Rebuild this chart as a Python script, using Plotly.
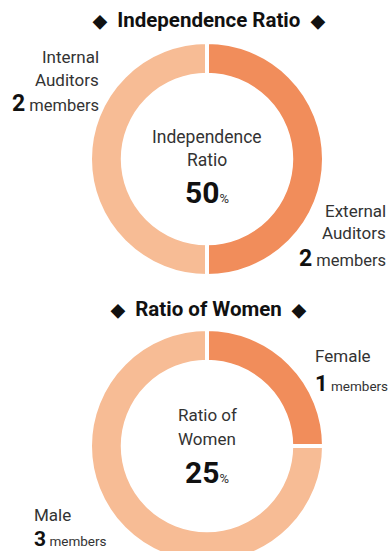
import plotly.graph_objects as go

# Board composition data
indep_labels = ["External Auditors", "Internal Auditors"]
indep_values = [2, 2]
women_labels = ["Female", "Male"]
women_values = [1, 3]

W, H = 391, 575
DARK = "#F18D5B"
LIGHT = "#F7BC95"
FONT = "Roboto, 'Noto Sans', sans-serif"


def px(x):
    return x / W


def py(y):
    return 1 - y / H


def pie_domain(cx, cy, r):
    return dict(x=[px(cx - r), px(cx + r)], y=[py(cy + r), py(cy - r)])


fig = go.Figure()
fig.add_trace(go.Pie(
    labels=indep_labels, values=indep_values, hole=0.72, sort=False,
    direction="clockwise", rotation=0, textinfo="none", hoverinfo="label+value",
    marker=dict(colors=[DARK, LIGHT], line=dict(color="white", width=4)),
    domain=pie_domain(207, 159, 117), showlegend=False,
))
fig.add_trace(go.Pie(
    labels=women_labels, values=women_values, hole=0.72, sort=False,
    direction="clockwise", rotation=0, textinfo="none", hoverinfo="label+value",
    marker=dict(colors=[DARK, LIGHT], line=dict(color="white", width=4)),
    domain=pie_domain(207, 446, 117), showlegend=False,
))

ann = []


def text(x, y, s, size, anchor="center", color="#333333", bold=False):
    if bold:
        s = f"<b>{s}</b>"
    ann.append(dict(x=px(x), y=py(y), xref="paper", yref="paper", text=s,
                    showarrow=False, xanchor=anchor, yanchor="middle",
                    font=dict(family=FONT, size=size, color=color)))


def title_line(s):
    d = "<span style='font-size:18px'>◆</span>"
    return f"{d}  {s}  {d}"


def count_line(n, num_size, word_size):
    return (f"<b><span style='font-size:{num_size}px;color:#111111'>{n}</span></b>"
            f"<span style='font-size:{word_size}px'> members</span>")


def pct_line(p):
    return (f"<b><span style='font-size:30px;color:#111111'>{p}</span></b>"
            f"<span style='font-size:13px'>%</span>")


indep_ratio = round(100 * indep_values[0] / sum(indep_values))
women_ratio = round(100 * women_values[0] / sum(women_values))

# Independence ratio block
text(209, 20, title_line("Independence Ratio"), 20.5, color="#111111", bold=True)
text(101, 57, "Internal", 17, anchor="right")
text(101, 80, "Auditors", 17, anchor="right")
text(101, 103, count_line(indep_values[1], 23, 16.5), 16, anchor="right")
text(207, 137, "Independence", 17.5)
text(207, 160, "Ratio", 17.5)
text(207, 192, pct_line(indep_ratio), 17)
text(388, 211, "External", 17, anchor="right")
text(388, 233, "Auditors", 17, anchor="right")
text(388, 258, count_line(indep_values[0], 23, 16.5), 16, anchor="right")

# Ratio of women block
text(208, 309, title_line("Ratio of Women"), 20.5, color="#111111", bold=True)
text(313, 356, "Female", 17, anchor="left")
text(313, 383, count_line(women_values[0], 22, 13.5), 14, anchor="left")
text(207, 415, "Ratio of", 17)
text(207, 439, "Women", 17)
text(207, 472, pct_line(women_ratio), 17)
text(32, 515, "Male", 17, anchor="left")
text(32, 539, count_line(women_values[1], 21, 13.5), 14, anchor="left")

fig.update_layout(
    width=W, height=H, margin=dict(l=0, r=0, t=0, b=0),
    paper_bgcolor="white", plot_bgcolor="white", annotations=ann,
)

fig.write_html("out.html", post_script="document.body.style.overflow='hidden';"
               "document.documentElement.style.overflow='hidden';")
